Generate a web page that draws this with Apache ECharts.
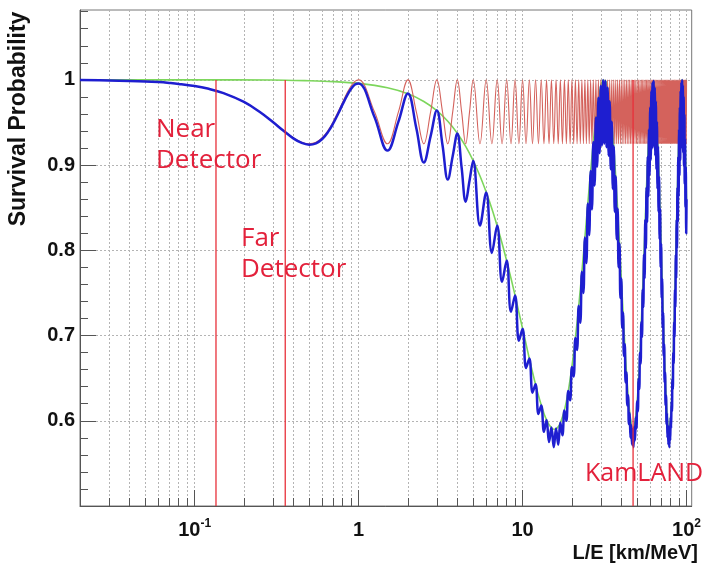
<!DOCTYPE html>
<html><head><meta charset="utf-8">
<script src="https://cdn.jsdelivr.net/npm/echarts@6/dist/echarts.min.js"></script>
<style>html,body{margin:0;padding:0;background:#fff}#c{width:704px;height:568px}</style>
</head><body><div id="c"></div>
<script>
// ---- tick values ----
const xMajorTicks = [0.1, 1, 10, 100];
const xMinorTicks = [0.02,0.03,0.04,0.05,0.06,0.07,0.08,0.09,0.2,0.3,0.4,0.5,0.6,0.7,0.8,0.9,2,3,4,5,6,7,8,9,20,30,40,50,60,70,80,90];
const yLabelValues = [0.6, 0.7, 0.8, 0.9, 1.0];
const yMajorTicks = [0.5, 0.6, 0.7, 0.8, 0.9, 1.0];
const yMinorTicks = [0.52,0.54,0.56,0.58,0.62,0.64,0.66,0.68,0.72,0.74,0.76,0.78,0.82,0.84,0.86,0.88,0.92,0.94,0.96,0.98,1.02,1.04,1.06,1.08];

// ---- detector positions (L/E, km/MeV) ----
const detectorNames = ['Near\nDetector', 'Far\nDetector', 'KamLAND'];
const detectorLE = [0.135, 0.357, 47.2];

// ---- curves: [L/E, survival probability] ----
const greenCurve = [[0.02,1],[0.1,1],[0.3,0.9999],[0.5,0.999],[0.7,0.998],[1,0.9959],[1.5,0.9908],[2,0.9837],[2.5,0.9747],[3,0.9639],[3.5,0.9514],[4,0.9374],[4.5,0.9219],[5,0.9051],[5.5,0.8872],[6,0.8684],[6.5,0.8488],[7,0.8286],[7.5,0.8083],[8,0.7876],[8.5,0.7672],[9,0.7471],[9.5,0.7271],[10,0.7082],[10.5,0.6901],[11,0.6728],[11.5,0.657],[12,0.6426],[12.5,0.6296],[13,0.6184],[13.5,0.6086],[14,0.6011],[14.5,0.5954],[15,0.5918],[15.5,0.5901],[16,0.5905],[16.5,0.593],[17,0.5975],[18,0.6125],[19,0.6349],[20,0.6635],[21,0.6972],[22,0.7346],[23,0.7745],[24,0.8153],[25,0.8551],[26,0.8928],[27,0.9267],[28,0.9556],[29,0.9786],[30,0.9932],[31,0.9996],[32,0.999],[33,0.9908],[34,0.9747],[35,0.9514],[36,0.9219],[38,0.8488],[40,0.7672],[42,0.6901],[44,0.6296],[46,0.5954],[47,0.5901],[48,0.593],[50,0.6228],[52,0.6798],[54,0.7545],[56,0.8355],[58,0.9104],[60,0.968],[62,0.9974],[63,0.999],[65,0.9747],[67,0.9219],[69,0.8488],[71,0.7672],[73,0.6901],[75,0.6296],[77,0.5954],[78,0.5901],[79,0.593],[81,0.6228],[83,0.6798],[85,0.7545],[87,0.8355],[89,0.9104],[91,0.968],[93,0.9974],[94,1],[96,0.9802],[98,0.931],[100,0.86]];

const redCurve = [[0.02,0.9997],[0.03,0.9993],[0.04,0.9988],[0.05,0.9982],[0.06,0.9974],[0.07,0.9964],[0.08,0.9953],[0.1,0.9928],[0.12,0.9898],[0.15,0.9845],[0.2,0.9741],[0.25,0.9625],[0.3,0.9509],[0.35,0.9404],[0.4,0.9321],[0.45,0.9268],[0.5,0.925],[0.55,0.9268],[0.6,0.9321],[0.65,0.9404],[0.7,0.9509],[0.75,0.9625],[0.8,0.9741],[0.85,0.9845],[0.9,0.9928],[0.95,0.9982],[1,1],
[1.25,0.9625],[1.5,0.925],[1.75,0.9625],[2,1],[2.25,0.9625],[2.5,0.925],[2.75,0.9625],[3,1],[3.25,0.9625],[3.5,0.925],[3.75,0.9625],[4,1],[4.25,0.9625],[4.5,0.925],[4.75,0.9625],[5,1],
[5.5,0.925],[6,1],[6.5,0.925],[7,1],[7.5,0.925],[8,1],[8.5,0.925],[9,1],[9.5,0.925],[10,1],
[10.5,0.925],[11,1],[11.5,0.925],[12,1],[12.5,0.925],[13,1],[13.5,0.925],[14,1],[14.5,0.925],[15,1],
[15.5,0.925],[16,1],[16.5,0.925],[17,1],[17.5,0.925],[18,1],[18.5,0.925],[19,1],[19.5,0.925],[20,1],
[20.5,0.925],[21,1],[21.5,0.925],[22,1],[22.5,0.925],[23,1],[23.5,0.925],[24,1],[24.5,0.925],[25,1],
[25.5,0.925],[26,1],[26.5,0.925],[27,1],[27.5,0.925],[28,1],[28.5,0.925],[29,1],[29.5,0.925],[30,1],
[30.5,0.925],[31,1],[31.5,0.925],[32,1],[32.5,0.925],[33,1],[33.5,0.925],[34,1],[34.5,0.925],[35,1],
[35.5,0.925],[36,1],[36.5,0.925],[37,1],[37.5,0.925],[38,1],[38.5,0.925],[39,1],[39.5,0.925],[40,1],
[40.5,0.925],[41,1],[41.5,0.925],[42,1],[42.5,0.925],[43,1],[43.5,0.925],[44,1],[44.5,0.925],[45,1],
[45.5,0.925],[46,1],[46.5,0.925],[47,1],[47.5,0.925],[48,1],[48.5,0.925],[49,1],[49.5,0.925],[50,1],
[50.5,0.925],[51,1],[51.5,0.925],[52,1],[52.5,0.925],[53,1],[53.5,0.925],[54,1],[54.5,0.925],[55,1],
[55.5,0.925],[56,1],[56.5,0.925],[57,1],[57.5,0.925],[58,1],[58.5,0.925],[59,1],[59.5,0.925],[60,1],
[60.5,0.925],[61,1],[61.5,0.925],[62,1],[62.5,0.925],[63,1],[63.5,0.925],[64,1],[64.5,0.925],[65,1],
[65.5,0.925],[66,1],[66.5,0.925],[67,1],[67.5,0.925],[68,1],[68.5,0.925],[69,1],[69.5,0.925],[70,1],
[70.5,0.925],[71,1],[71.5,0.925],[72,1],[72.5,0.925],[73,1],[73.5,0.925],[74,1],[74.5,0.925],[75,1],
[75.5,0.925],[76,1],[76.5,0.925],[77,1],[77.5,0.925],[78,1],[78.5,0.925],[79,1],[79.5,0.925],[80,1],
[80.5,0.925],[81,1],[81.5,0.925],[82,1],[82.5,0.925],[83,1],[83.5,0.925],[84,1],[84.5,0.925],[85,1],
[85.5,0.925],[86,1],[86.5,0.925],[87,1],[87.5,0.925],[88,1],[88.5,0.925],[89,1],[89.5,0.925],[90,1],
[90.5,0.925],[91,1],[91.5,0.925],[92,1],[92.5,0.925],[93,1],[93.5,0.925],[94,1],[94.5,0.925],[95,1],
[95.5,0.925],[96,1],[96.5,0.925],[97,1],[97.5,0.925],[98,1],[98.5,0.925],[99,1],[99.5,0.925],[100,1]];

const blueCurve = [[0.02,1],[0.03,0.9993],[0.04,0.9988],[0.05,0.9982],[0.06,0.9974],[0.07,0.9964],[0.08,0.9953],[0.1,0.9928],[0.12,0.9898],[0.15,0.9845],[0.2,0.9741],[0.25,0.9622],[0.3,0.9505],[0.35,0.94],[0.4,0.9314],[0.45,0.926],[0.5,0.924],[0.55,0.9256],[0.6,0.9306],[0.65,0.9387],[0.7,0.9489],[0.75,0.9602],[0.8,0.9715],[0.85,0.9815],[0.9,0.9895],[0.95,0.9945],[1,0.9959],
[1.25,0.9565],[1.5,0.917],[1.75,0.951],[2,0.984],[2.25,0.9433],[2.5,0.903],[2.75,0.934],[3,0.964],[3.25,0.9233],[3.5,0.883],[3.75,0.9107],[4,0.937],[4.25,0.897],[4.5,0.857],[4.75,0.8819],[5,0.905],
[5.5,0.829],[6,0.868],[6.5,0.797],[7,0.829],[7.5,0.763],[8,0.788],[8.5,0.728],[9,0.747],[9.5,0.694],[10,0.708],
[10.5,0.662],[11,0.673],[11.5,0.633],[12,0.643],[12.5,0.608],[13,0.618],[13.5,0.587],[14,0.601],[14.5,0.575],[15,0.592],
[15.5,0.569],[16,0.591],[16.5,0.572],[17,0.598],[17.5,0.583],[18,0.612],[18.5,0.6],[19,0.635],[19.5,0.624],[20,0.663],
[20.5,0.652],[21,0.697],[21.5,0.683],[22,0.735],[22.5,0.715],[23,0.775],[23.5,0.75],[24,0.815],[24.5,0.785],[25,0.855],
[25.5,0.818],[26,0.893],[26.5,0.848],[27,0.927],[27.5,0.876],[28,0.956],[28.5,0.898],[29,0.979],[29.5,0.914],[30,0.993],
[30.5,0.923],[31,1],[31.5,0.925],[32,0.999],[32.5,0.921],[33,0.991],[33.5,0.911],[34,0.975],[34.5,0.895],[35,0.951],
[35.5,0.872],[36,0.922],[36.5,0.845],[37,0.887],[37.5,0.813],[38,0.849],[38.5,0.78],[39,0.808],[39.5,0.744],[40,0.767],
[40.5,0.709],[41,0.727],[41.5,0.676],[42,0.69],[42.5,0.645],[43,0.657],[43.5,0.618],[44,0.63],[44.5,0.596],[45,0.609],
[45.5,0.58],[46,0.595],[46.5,0.572],[47,0.59],[47.5,0.569],[48,0.593],[48.5,0.577],[49,0.604],[49.5,0.591],[50,0.623],
[50.5,0.611],[51,0.649],[51.5,0.637],[52,0.68],[52.5,0.667],[53,0.716],[53.5,0.698],[54,0.754],[54.5,0.733],[55,0.795],
[55.5,0.767],[56,0.836],[56.5,0.802],[57,0.874],[57.5,0.833],[58,0.91],[58.5,0.863],[59,0.942],[59.5,0.888],[60,0.968],
[60.5,0.906],[61,0.987],[61.5,0.919],[62,0.997],[62.5,0.925],[63,0.999],[63.5,0.921],[64,0.991],[64.5,0.911],[65,0.975],
[65.5,0.895],[66,0.951],[66.5,0.872],[67,0.922],[67.5,0.845],[68,0.887],[68.5,0.813],[69,0.849],[69.5,0.78],[70,0.808],
[70.5,0.744],[71,0.767],[71.5,0.709],[72,0.727],[72.5,0.676],[73,0.69],[73.5,0.645],[74,0.657],[74.5,0.618],[75,0.63],
[75.5,0.596],[76,0.609],[76.5,0.58],[77,0.595],[77.5,0.572],[78,0.59],[78.5,0.569],[79,0.593],[79.5,0.577],[80,0.604],
[80.5,0.591],[81,0.623],[81.5,0.611],[82,0.649],[82.5,0.637],[83,0.68],[83.5,0.667],[84,0.716],[84.5,0.698],[85,0.754],
[85.5,0.733],[86,0.795],[86.5,0.767],[87,0.836],[87.5,0.802],[88,0.874],[88.5,0.833],[89,0.91],[89.5,0.863],[90,0.942],
[90.5,0.888],[91,0.968],[91.5,0.906],[92,0.987],[92.5,0.919],[93,0.997],[93.5,0.925],[94,1],[94.5,0.923],[95,0.994],
[95.5,0.915],[96,0.98],[96.5,0.899],[97,0.959],[97.5,0.878],[98,0.931],[98.5,0.851],[99,0.898],[99.5,0.82],[100,0.86]];

// ---- chart ----
const chart = echarts.init(document.getElementById('c'), null, {renderer: 'canvas'});
const AX = '#555';
const gridLine = {show: true, lineStyle: {color: '#b4b4b4', width: 1, type: [2, 2]}};
const numFont = 'Liberation Sans, Arial, sans-serif';
const labelFont = 'Open Sans, Noto Sans, sans-serif';
const red = '#e3213b';

const series = [
  {type: 'line', data: greenCurve, symbol: 'none', smooth: 0.3, lineStyle: {color: '#7dd65c', width: 1.6}, z: 2},
  {type: 'line', data: redCurve, symbol: 'none', smooth: 0.4, lineStyle: {color: '#d4625c', width: 1.1, join: 'round'}, z: 3},
  {type: 'line', data: blueCurve, symbol: 'none', smooth: 0.4, lineStyle: {color: '#1e1ed0', width: 2.5, join: 'round'}, z: 4}
];
detectorLE.forEach(function (le) {
  series.push({type: 'line', data: [[le, 1], [le, 0.5]], symbol: 'none',
    lineStyle: {color: '#e8303a', width: 1.3}, z: 5});
});

const option = {
  animation: false,
  grid: {left: 80, right: 6, top: 10, bottom: 62, show: true, borderColor: '#777', borderWidth: 1},
  xAxis: [
    {type: 'log', logBase: 10, min: 0.02, max: 107.5, position: 'bottom',
      axisLine: {show: true, lineStyle: {color: AX, width: 1}},
      axisTick: {show: true, inside: true, length: 16, customValues: xMajorTicks, lineStyle: {color: AX}},
      axisLabel: {show: true, customValues: xMajorTicks, margin: 12,
        formatter: function (v) {
          const e = Math.round(Math.log10(v));
          if (e === -1) return '{b|10}{s|-1}';
          if (e === 2) return '{b|10}{s|2}';
          return '{b|' + (e === 0 ? '1' : '10') + '}';
        },
        rich: {
          b: {fontSize: 20, fontWeight: 'bold', fontFamily: numFont, color: '#111', lineHeight: 22, verticalAlign: 'bottom'},
          s: {fontSize: 12, fontWeight: 'bold', fontFamily: numFont, color: '#111', lineHeight: 11, verticalAlign: 'top'}
        }},
      splitLine: gridLine},
    {type: 'log', logBase: 10, min: 0.02, max: 107.5, position: 'bottom',
      axisLine: {show: false},
      axisTick: {show: true, inside: true, length: 8, customValues: xMinorTicks, lineStyle: {color: AX}},
      axisLabel: {show: false},
      splitLine: gridLine}
  ],
  yAxis: [
    {type: 'value', min: 0.5, max: 1.082, interval: 0.1, position: 'left',
      axisLine: {show: true, lineStyle: {color: AX, width: 1}},
      axisTick: {show: true, inside: true, length: 16, customValues: yMajorTicks, lineStyle: {color: AX}},
      axisLabel: {show: true, customValues: yLabelValues, margin: 5, fontSize: 20, fontWeight: 'bold',
        fontFamily: numFont, color: '#111',
        formatter: function (v) { return Math.abs(v - 1) < 1e-9 ? '1' : v.toFixed(1); }},
      splitLine: gridLine},
    {type: 'value', min: 0.5, max: 1.082, position: 'left',
      axisLine: {show: false},
      axisTick: {show: true, inside: true, length: 8, customValues: yMinorTicks, lineStyle: {color: AX}},
      axisLabel: {show: false},
      splitLine: {show: false}}
  ],
  series: series,
  graphic: [
    {type: 'text', x: 19, y: 119, rotation: Math.PI / 2, z: 10,
      style: {text: 'Survival Probability', fontSize: 23, fontWeight: 'bold', fontFamily: numFont, fill: '#111', align: 'center', verticalAlign: 'middle'}},
    {type: 'text', x: 698, y: 553, z: 10,
      style: {text: 'L/E [km/MeV]', fontSize: 20, fontWeight: 'bold', fontFamily: numFont, fill: '#111', align: 'right', verticalAlign: 'middle'}},
    {type: 'text', x: 156, y: 114.5, z: 10,
      style: {text: detectorNames[0], fontSize: 26, fontFamily: labelFont, fill: red, lineHeight: 31, align: 'left', verticalAlign: 'top'}},
    {type: 'text', x: 241, y: 223.5, z: 10,
      style: {text: detectorNames[1], fontSize: 26, fontFamily: labelFont, fill: red, lineHeight: 31, align: 'left', verticalAlign: 'top'}},
    {type: 'text', x: 585, y: 473.5, z: 10,
      style: {text: detectorNames[2], fontSize: 25, fontFamily: labelFont, fill: red, align: 'left', verticalAlign: 'middle'}}
  ]
};
chart.setOption(option);
</script>
</body></html>
